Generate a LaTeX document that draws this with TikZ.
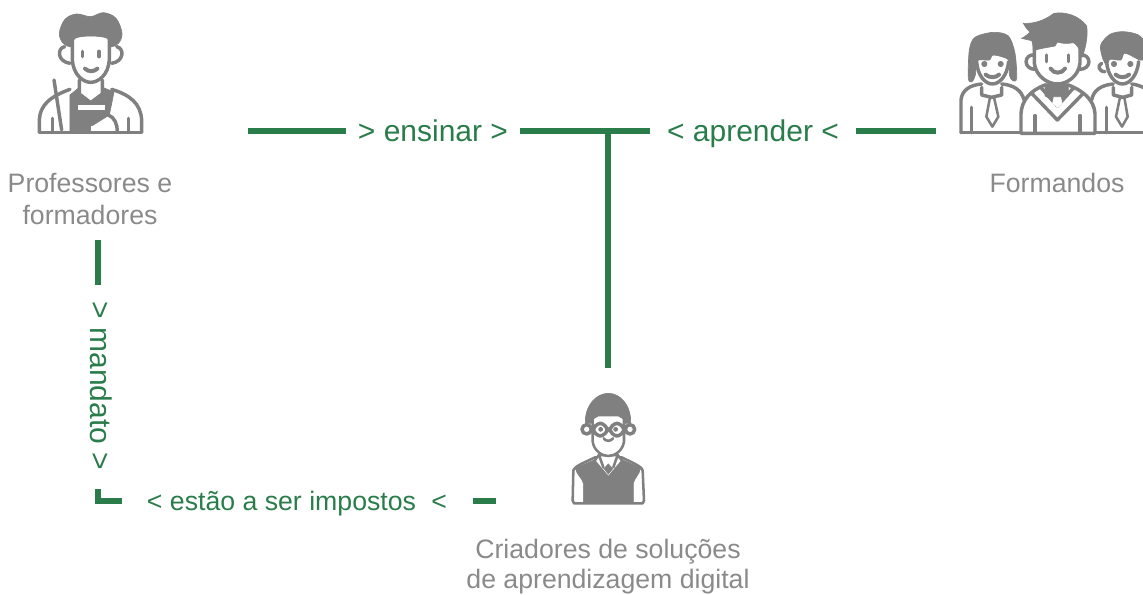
\documentclass[tikz,border=0pt]{standalone}
\usepackage{fontspec}
\setmainfont{Liberation Sans}
\usepackage{xcolor}
\definecolor{mygreen}{RGB}{42, 125, 75}
\definecolor{mygray}{RGB}{128, 128, 128}
\definecolor{mytext}{RGB}{138, 138, 138}

\begin{document}
\begin{tikzpicture}[
    x=0.75pt, y=-0.75pt,
    link/.style={draw=mygreen, line width=3.9pt},
    verb/.style={text=mygreen, font=\fontsize{22.5}{26}\selectfont, inner sep=0pt, text height=16pt, text depth=5pt},
    small verb/.style={verb, font=\fontsize{20}{24}\selectfont},
    person/.style={text=mytext, font=\fontsize{20}{23.5}\selectfont, align=center, inner sep=0pt},
    line/.style={draw=mygray, line width=2.6pt, line cap=round, line join=round},
    thin line/.style={draw=mygray, line width=1.9pt, line cap=round, line join=round},
    solid/.style={fill=mygray, draw=mygray, line width=0.5pt},
    blank/.style={fill=white, draw=white, line width=0.5pt}
]
\useasboundingbox (0,0) rectangle (1143,595);

% Labels
\node[person] (teachers) at (90,199) {Professores e\\formadores};
\node[person] (learners) at (1057,183) {Formandos};
\node[person, font=\fontsize{20}{22.5}\selectfont] (designers) at (608,567) {Criadores de soluções\\de aprendizagem digital};

\node[verb] (ensinar) at (433,134) {> ensinar >};
\node[verb] (aprender) at (753,134) {< aprender <};
\node[small verb] (impostos) at (297,503) {< estão a ser impostos\hspace{6pt} <};
\node[verb, rotate=-90] (mandato) at (98,386) {> mandato >};

% Connector ends
\coordinate (teachEnd) at (248,131);
\coordinate (teachGap) at (346,131);
\coordinate (crossL) at (520,131);
\coordinate (crossR) at (650,131);
\coordinate (cross) at (608,131);
\coordinate (down) at (608,368);
\coordinate (learnGap) at (856,131);
\coordinate (learnEnd) at (936,131);
\coordinate (mandTop) at (98,240);
\coordinate (mandGap) at (98,285);
\coordinate (cornerTop) at (98,489);
\coordinate (corner) at (98,501);
\coordinate (cornerEnd) at (122,501);
\coordinate (impGap) at (473,501);
\coordinate (impEnd) at (496,501);

% Arrows
\draw[link] (teachEnd) -- (teachGap);
\draw[link] (crossL) -- (crossR);
\draw[link] (cross) -- (down);
\draw[link] (learnGap) -- (learnEnd);
\draw[link] (mandTop) -- (mandGap);
\draw[link] (cornerTop) -- (corner) -- (cornerEnd);
\draw[link] (impGap) -- (impEnd);

% Teacher icon
\begin{scope}[shift={(20,0)}, scale=1/3]
\draw[line] (58,397) -- (58,360) .. controls (60,315) and (90,290) .. (150,268);
\draw[line] (275,268) .. controls (330,285) and (362,310) .. (365,360) -- (365,397);
\draw[line] (58,397) -- (365,397);
\draw[line] (97,395) -- (97,355);
\draw[line] (325,395) -- (325,355);
\draw[line] (102,240) -- (125,390);
\fill[solid] (150,285) -- (178,262) -- (178,282) -- (212,308) -- (247,282) -- (247,262) -- (282,276) -- (268,345) -- (215,378) -- (210,395) -- (150,395) -- cycle;
\fill[blank] (175,316) rectangle (252,328);
\fill[blank] (214,379) rectangle (275,388);
\draw[line] (265,345) .. controls (285,352) and (292,375) .. (292,395);
\draw[line] (178,240) -- (178,282) -- (212,308) -- (247,282) -- (247,240);
\draw[line] (134,140) .. controls (110,145) and (112,185) .. (150,190);
\draw[line] (290,140) .. controls (314,145) and (312,185) .. (275,190);
\draw[line, fill=white] (157,100) -- (157,180) .. controls (160,225) and (190,247) .. (212,247) .. controls (235,247) and (265,225) .. (268,180) -- (268,100) -- cycle;
\fill[solid] plot[smooth cycle, tension=0.6] coordinates {(118,100) (135,58) (170,42) (212,50) (250,38) (288,55) (306,100) (295,130) (270,140) (262,115) (212,108) (165,115) (156,140) (130,130)};
\draw[line] (187,154) -- (187,170);
\draw[line] (237,154) -- (237,170);
\draw[line, line width=3pt] (195,206) .. controls (205,216) and (222,216) .. (232,206);
\end{scope}

% Learners icon
\begin{scope}[shift={(950,0)}, scale=1/3]
% left girl
\draw[line] (33,398) -- (33,300) .. controls (36,270) and (60,255) .. (95,252);
\draw[line] (155,252) .. controls (190,255) and (215,270) .. (222,300);
\draw[line] (33,398) -- (215,398);
\draw[line] (65,398) -- (65,322);
\draw[line] (95,262) -- (95,285) -- (125,292) -- (155,285) -- (155,262);
\draw[thin line] (120,292) -- (109,350) -- (127,380) -- (145,350) -- (132,292) -- cycle;
\draw[line] (80,185) .. controls (82,225) and (105,252) .. (127,252) .. controls (150,252) and (172,225) .. (176,185);
\fill[solid] plot[smooth cycle, tension=0.5] coordinates {(55,235) (58,150) (75,112) (130,97) (175,108) (195,160) (200,235) (188,242) (178,225) (176,180) (130,165) (118,180) (82,182) (76,225) (66,245)};
\fill[solid] (103,192) circle[radius=8];
\fill[solid] (152,192) circle[radius=8];
\draw[line, line width=3pt] (107,224) .. controls (118,234) and (137,234) .. (147,224);
% right boy
\draw[line] (425,300) .. controls (430,270) and (455,255) .. (490,252);
\draw[line] (545,252) .. controls (560,254) and (572,258) .. (585,265);
\draw[line] (425,398) -- (585,398);
\draw[line] (470,398) -- (470,322);
\draw[line] (490,262) -- (490,285) -- (518,292) -- (545,285) -- (545,262);
\draw[thin line] (510,292) -- (498,350) -- (516,380) -- (533,350) -- (523,292) -- cycle;
\draw[line] (455,190) .. controls (442,195) and (445,215) .. (465,215);
\draw[line] (470,185) .. controls (472,225) and (495,252) .. (517,252) .. controls (540,252) and (562,225) .. (566,185);
\fill[solid] plot[smooth cycle, tension=0.5] coordinates {(452,135) (480,103) (520,95) (565,105) (590,135) (590,175) (570,180) (540,165) (522,160) (512,180) (480,178) (470,195) (458,175)};
\fill[solid] (492,192) circle[radius=8];
\fill[solid] (541,192) circle[radius=8];
\draw[line, line width=3pt] (497,224) .. controls (508,234) and (527,234) .. (537,224);
% center boy
\draw[line, fill=white] (213,400) -- (213,340) .. controls (216,300) and (240,272) .. (285,255) -- (355,255) .. controls (400,272) and (432,300) .. (435,340) -- (435,400) -- cycle;
\draw[line] (255,398) -- (255,347);
\draw[line] (390,398) -- (390,347);
\draw[line] (247,282) -- (322,360) -- (398,282);
\draw[line] (272,262) -- (322,318) -- (372,262);
\fill[solid] (285,252) -- (355,252) -- (355,288) -- (335,300) -- (310,300) -- (285,288) -- cycle;
\fill[blank] (312,292) -- (332,292) -- (336,310) -- (322,322) -- (308,310) -- cycle;
\draw[line, fill=white] (255,165) .. controls (220,160) and (218,210) .. (258,208);
\draw[line, fill=white] (390,165) .. controls (425,160) and (427,210) .. (387,208);
\draw[line, fill=white] (253,110) -- (253,190) .. controls (258,230) and (295,252) .. (322,252) .. controls (350,252) and (385,230) .. (390,190) -- (390,110) -- cycle;
\fill[solid] (220,70) .. controls (255,72) and (285,60) .. (312,40) .. controls (345,35) and (385,45) .. (410,78) .. controls (415,110) and (405,150) .. (396,172) .. controls (392,150) and (380,132) .. (370,128) .. controls (350,132) and (335,130) .. (322,126) -- (315,138) .. controls (295,142) and (270,145) .. (250,152) .. controls (250,140) and (248,128) .. (245,122) -- (215,115) .. controls (225,110) and (235,102) .. (240,96) .. controls (232,88) and (224,80) .. (220,70) -- cycle;
\draw[line] (290,165) -- (290,185);
\draw[line] (355,165) -- (355,185);
\draw[line, line width=3pt] (302,206) .. controls (312,222) and (335,222) .. (345,206);
\end{scope}

% Designer icon
\begin{scope}[shift={(550,380)}, scale=1/3]
\draw[thin line, fill=white] (68,362) -- (70,272) .. controls (72,258) and (110,245) .. (135,232) -- (215,232) .. controls (240,245) and (276,258) .. (278,272) -- (282,362) -- (278,370) -- (72,370) -- cycle;
\fill[solid] (76,264) -- (133,240) -- (175,296) -- (218,240) -- (272,264) .. controls (268,285) and (252,295) .. (250,310) -- (250,368) -- (100,368) -- (100,310) .. controls (98,295) and (80,285) .. (76,264) -- cycle;
\draw[thin line, fill=white] (147,225) -- (133,243) -- (175,293) -- (217,243) -- (203,225) -- cycle;
\fill[solid] (175,252) -- (188,266) -- (175,282) -- (162,266) -- cycle;
\draw[thin line] (147,225) -- (160,262);
\draw[thin line] (203,225) -- (190,262);
\draw[line, fill=white] (110,148) circle[radius=14];
\draw[line, fill=white] (240,148) circle[radius=14];
\draw[thin line, fill=white] (128,100) -- (128,185) .. controls (132,212) and (155,228) .. (175,228) .. controls (195,228) and (218,212) .. (222,185) -- (222,100) -- cycle;
\fill[solid] (106,130) .. controls (104,75) and (140,40) .. (175,40) .. controls (210,40) and (244,75) .. (242,130) -- (226,130) .. controls (222,118) and (215,110) .. (205,108) -- (145,108) .. controls (135,110) and (128,118) .. (124,130) -- cycle;
\draw[line, fill=white, rounded corners=6pt] (130,130) rectangle (172,168);
\draw[line, fill=white, rounded corners=6pt] (180,130) rectangle (222,168);
\fill[solid] (152,148) circle[radius=6];
\fill[solid] (197,148) circle[radius=6];
\draw[thin line] (161,175) .. controls (168,185) and (182,185) .. (189,175);
\end{scope}

\end{tikzpicture}
\end{document}
